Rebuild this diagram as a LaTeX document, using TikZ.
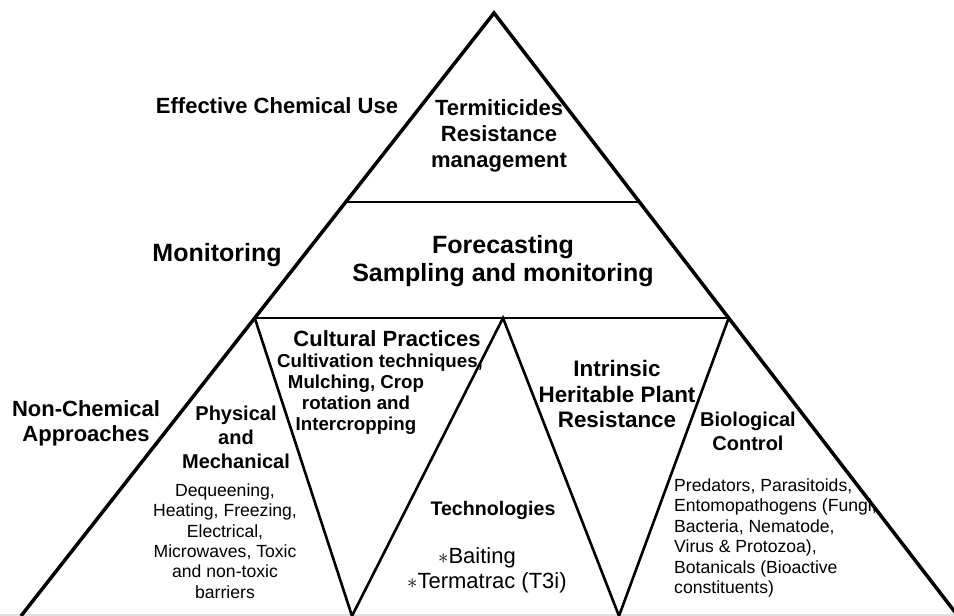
\documentclass[tikz,border=0pt]{standalone}
\usepackage{fontspec}
\setmainfont{Liberation Sans}
\usetikzlibrary{calc}
\newcommand\fsz[2]{\fontsize{#1}{#2}\selectfont}
\tikzset{
  rim/.style={line width=3.5pt, line join=miter},
  band/.style={line width=2.6pt},
  vee/.style={line width=2.6pt, line join=miter},
  head/.style={align=center, inner sep=0pt},
  small/.style={align=center, inner sep=0pt, font=\fsz{17.6}{20.4}},
}

\begin{document}
\begin{tikzpicture}[x=1pt,y=-1pt]
\useasboundingbox (0,0) rectangle (954,616);
\clip (0,0) rectangle (954,616);

\coordinate (apex) at (494,13);
\coordinate (bl) at (21,616);
\coordinate (br) at (958,616);
\coordinate (upl) at ($(apex)!0.3134!(bl)$);
\coordinate (upr) at ($(apex)!0.3134!(br)$);
\coordinate (lol) at ($(apex)!0.5058!(bl)$);
\coordinate (lor) at ($(apex)!0.5058!(br)$);
\coordinate (mid) at (503,318);
\coordinate (v1) at (352,616);
\coordinate (v2) at (619,616);

\node[head, font=\fsz{22}{26}\bfseries] (effchem) at (277,106) {Effective Chemical Use};
\node[head, font=\fsz{22}{26}\bfseries] (termi) at (499,136) {Termiticides\\Resistance\\management};
\node[head, font=\fsz{25}{28}\bfseries] (monit) at (217,255) {Monitoring};
\node[head, font=\fsz{25}{28}\bfseries] (forecast) at (503,261) {Forecasting\\Sampling and monitoring};
\node[head, font=\fsz{22}{25}\bfseries] (nonchem) at (86,423) {Non-Chemical\\Approaches};
\node[head, font=\fsz{20}{24}\bfseries] (physmech) at (236,437) {Physical\\and\\Mechanical};
\node[small] (physlist) at (225,541) {Dequeening,\\Heating, Freezing,\\Electrical,\\Microwaves, Toxic\\and non-toxic\\barriers};
\node[head, font=\fsz{22}{25}\bfseries] (cultural) at (387,339) {Cultural Practices};
\node[head, font=\fsz{18.7}{21}\bfseries] (cultiv) at (380,363) {Cultivation techniques,};
\node[head, font=\fsz{18.7}{21}\bfseries] (mulch) at (356,405) {Mulching, Crop\\rotation and\\Intercropping};
\node[head, font=\fsz{19.6}{23}\bfseries] (techno) at (493,510) {Technologies};
\node[head, anchor=west, font=\fsz{22}{25}] (baiting) at (438,558) {$\ast$Baiting};
\node[head, anchor=west, font=\fsz{22}{25}] (termatrac) at (407,583) {$\ast$Termatrac (T3i)};
\node[head, font=\fsz{22.4}{25.5}\bfseries] (intrinsic) at (617,394) {Intrinsic\\Heritable Plant\\Resistance};
\node[head, font=\fsz{20}{24}\bfseries] (biocontrol) at (748,431) {Biological\\Control};
\node[small, align=left, anchor=west] (biolist) at (674,538) {Predators, Parasitoids,\\Entomopathogens (Fungi,\\Bacteria, Nematode,\\Virus \& Protozoa),\\Botanicals (Bioactive\\constituents)};

\draw[black!12, line width=1.5pt] (0,615.2) -- (954,615.2);
\draw[band] (upl) -- (upr);
\draw[band] (lol) -- (lor);
\draw[vee] (lol) -- (v1) -- (mid) -- (v2) -- (lor);
\draw[rim] (bl) -- (apex) -- (br);
\end{tikzpicture}
\end{document}
